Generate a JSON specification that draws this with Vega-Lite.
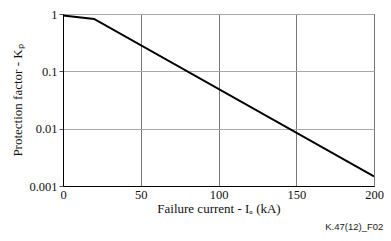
{
  "$schema": "https://vega.github.io/schema/vega-lite/v6.json",
  "autosize": "none",
  "width": 311,
  "height": 172,
  "padding": {"left": 63, "top": 14, "right": 17, "bottom": 55},
  "background": "white",
  "config": {
    "view": {"stroke": "#000", "strokeWidth": 1},
    "font": "Liberation Serif"
  },
  "title": {
    "text": "K.47(12)_F02",
    "orient": "bottom",
    "anchor": "end",
    "font": "Liberation Sans",
    "fontSize": 9.5,
    "fontWeight": "normal",
    "color": "#222",
    "offset": 6
  },
  "data": {
    "values": [
      {"current": 0, "kp": 0.94},
      {"current": 20, "kp": 0.82},
      {"current": 200, "kp": 0.00147}
    ]
  },
  "mark": {"type": "line", "color": "#000", "strokeWidth": 2, "clip": true},
  "encoding": {
    "x": {
      "field": "current",
      "type": "quantitative",
      "scale": {"domain": [0, 200], "nice": false},
      "axis": {
        "values": [0, 50, 100, 150, 200],
        "title": "Failure current - Iₐ (kA)",
        "titleFont": "Liberation Serif",
        "titleFontSize": 13,
        "titleFontWeight": "normal",
        "titleColor": "#111",
        "titlePadding": 2,
        "labelFont": "Liberation Serif",
        "labelFontSize": 12.5,
        "labelColor": "#111",
        "labelPadding": 2,
        "labelFlush": false,
        "ticks": false,
        "domainColor": "#000",
        "gridColor": "#777",
        "gridWidth": 1
      }
    },
    "y": {
      "field": "kp",
      "type": "quantitative",
      "scale": {"type": "log", "domain": [0.001, 1], "nice": false},
      "axis": {
        "values": [0.001, 0.01, 0.1, 1],
        "format": ".3~f",
        "title": "Protection factor - Kₚ",
        "titleFont": "Liberation Serif",
        "titleFontSize": 13,
        "titleFontWeight": "normal",
        "titleColor": "#111",
        "titlePadding": 4,
        "labelFont": "Liberation Serif",
        "labelFontSize": 12.5,
        "labelColor": "#111",
        "labelPadding": 2,
        "labelFlush": false,
        "tickSize": 4,
        "tickColor": "#555",
        "domainColor": "#000",
        "gridColor": "#aaa",
        "gridWidth": 1
      }
    }
  }
}
